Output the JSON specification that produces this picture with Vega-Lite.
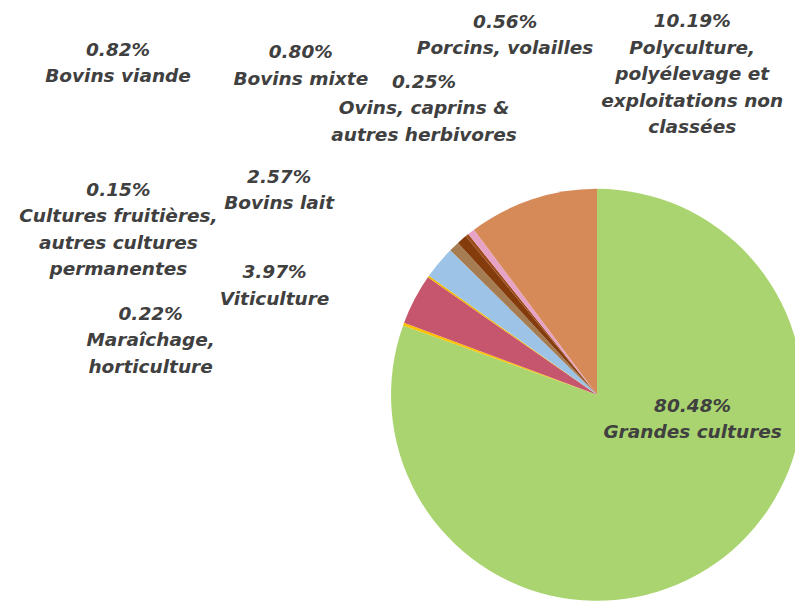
{
  "$schema": "https://vega.github.io/schema/vega-lite/v6.json",
  "width": 795,
  "height": 601,
  "autosize": "none",
  "padding": 0,
  "background": "white",
  "view": {"stroke": null},
  "config": {"text": {"font": "DejaVu Sans", "fontSize": 18.5, "fontStyle": "italic", "fontWeight": "bold", "color": "#404040", "lineBreak": "\n", "lineHeight": 26.5, "align": "center", "baseline": "middle"}},
  "data": {
    "values": [
      {"cat": "Grandes cultures", "pct": 80.48, "order": 1, "label": "80.48%\nGrandes cultures"},
      {"cat": "Maraîchage, horticulture", "pct": 0.22, "order": 2, "label": "0.22%\nMaraîchage,\nhorticulture"},
      {"cat": "Viticulture", "pct": 3.97, "order": 3, "label": "3.97%\nViticulture"},
      {"cat": "Cultures fruitières, autres cultures permanentes", "pct": 0.15, "order": 4, "label": "0.15%\nCultures fruitières,\nautres cultures\npermanentes"},
      {"cat": "Bovins lait", "pct": 2.57, "order": 5, "label": "2.57%\nBovins lait"},
      {"cat": "Bovins viande", "pct": 0.82, "order": 6, "label": "0.82%\nBovins viande"},
      {"cat": "Bovins mixte", "pct": 0.80, "order": 7, "label": "0.80%\nBovins mixte"},
      {"cat": "Ovins, caprins & autres herbivores", "pct": 0.25, "order": 8, "label": "0.25%\nOvins, caprins &\nautres herbivores"},
      {"cat": "Porcins, volailles", "pct": 0.56, "order": 9, "label": "0.56%\nPorcins, volailles"},
      {"cat": "Polyculture, polyélevage et exploitations non classées", "pct": 10.19, "order": 10, "label": "10.19%\nPolyculture,\npolyélevage et\nexploitations non\nclassées"}
    ]
  },
  "encoding": {
    "theta": {"field": "pct", "type": "quantitative", "stack": true},
    "order": {"field": "order", "type": "quantitative"}
  },
  "layer": [
    {
      "mark": {"type": "arc", "outerRadius": 206, "x": {"expr": "width * 0.751"}, "y": {"expr": "height * 0.657"}},
      "encoding": {
        "color": {
          "field": "cat", "type": "nominal", "legend": null,
          "scale": {
            "domain": ["Grandes cultures", "Maraîchage, horticulture", "Viticulture", "Cultures fruitières, autres cultures permanentes", "Bovins lait", "Bovins viande", "Bovins mixte", "Ovins, caprins & autres herbivores", "Porcins, volailles", "Polyculture, polyélevage et exploitations non classées"],
            "range": ["#a9d46f", "#ffc000", "#c5566e", "#f2b800", "#9dc3e6", "#a67c52", "#843c0c", "#9c4a1a", "#e7a3c6", "#d68a58"]
          }
        }
      }
    },
    {
      "mark": {"type": "text", "radius": 100, "dx": 38, "dy": -71, "x": {"expr": "width * 0.751"}, "y": {"expr": "height * 0.657"}},
      "encoding": {"text": {"field": "label", "type": "nominal", "condition": {"test": "datum.cat !== 'Grandes cultures'", "value": ""}}}
    },
    {
      "mark": {"type": "text", "radius": 206, "dx": -253, "dy": -10.5, "x": {"expr": "width * 0.751"}, "y": {"expr": "height * 0.657"}},
      "encoding": {"text": {"field": "label", "type": "nominal", "condition": {"test": "datum.cat !== 'Maraîchage, horticulture'", "value": ""}}}
    },
    {
      "mark": {"type": "text", "radius": 206, "dx": -140, "dy": -27, "x": {"expr": "width * 0.751"}, "y": {"expr": "height * 0.657"}},
      "encoding": {"text": {"field": "label", "type": "nominal", "condition": {"test": "datum.cat !== 'Viticulture'", "value": ""}}}
    },
    {
      "mark": {"type": "text", "radius": 206, "dx": -310, "dy": -87, "x": {"expr": "width * 0.751"}, "y": {"expr": "height * 0.657"}},
      "encoding": {"text": {"field": "label", "type": "nominal", "condition": {"test": "datum.cat !== 'Cultures fruitières, autres cultures permanentes'", "value": ""}}}
    },
    {
      "mark": {"type": "text", "radius": 206, "dx": -160, "dy": -86, "x": {"expr": "width * 0.751"}, "y": {"expr": "height * 0.657"}},
      "encoding": {"text": {"field": "label", "type": "nominal", "condition": {"test": "datum.cat !== 'Bovins lait'", "value": ""}}}
    },
    {
      "mark": {"type": "text", "radius": 206, "dx": -336, "dy": -197, "x": {"expr": "width * 0.751"}, "y": {"expr": "height * 0.657"}},
      "encoding": {"text": {"field": "label", "type": "nominal", "condition": {"test": "datum.cat !== 'Bovins viande'", "value": ""}}}
    },
    {
      "mark": {"type": "text", "radius": 206, "dx": -161, "dy": -187, "x": {"expr": "width * 0.751"}, "y": {"expr": "height * 0.657"}},
      "encoding": {"text": {"field": "label", "type": "nominal", "condition": {"test": "datum.cat !== 'Bovins mixte'", "value": ""}}}
    },
    {
      "mark": {"type": "text", "radius": 206, "dx": -43, "dy": -153.5, "x": {"expr": "width * 0.751"}, "y": {"expr": "height * 0.657"}},
      "encoding": {"text": {"field": "label", "type": "nominal", "condition": {"test": "datum.cat !== 'Ovins, caprins & autres herbivores'", "value": ""}}}
    },
    {
      "mark": {"type": "text", "radius": 206, "dx": 34, "dy": -210, "x": {"expr": "width * 0.751"}, "y": {"expr": "height * 0.657"}},
      "encoding": {"text": {"field": "label", "type": "nominal", "condition": {"test": "datum.cat !== 'Porcins, volailles'", "value": ""}}}
    },
    {
      "mark": {"type": "text", "radius": 206, "dx": 160, "dy": -178, "x": {"expr": "width * 0.751"}, "y": {"expr": "height * 0.657"}},
      "encoding": {"text": {"field": "label", "type": "nominal", "condition": {"test": "datum.cat !== 'Polyculture, polyélevage et exploitations non classées'", "value": ""}}}
    }
  ]
}
